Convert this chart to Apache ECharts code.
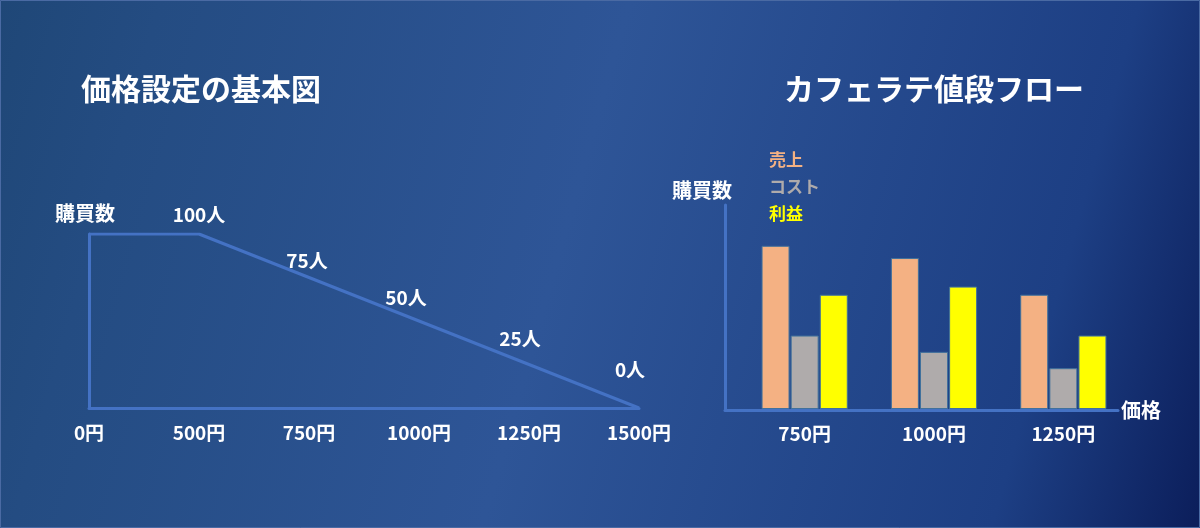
<!DOCTYPE html>
<html>
<head>
<meta charset="utf-8">
<script src="https://cdn.jsdelivr.net/npm/echarts@6/dist/echarts.min.js"></script>
<style>
html,body{margin:0;padding:0;background:#1f4777;}
#chart{width:1200px;height:528px;}
</style>
</head>
<body>
<div id="chart"></div>
<script>
// ---- data ----
const leftTitle = '価格設定の基本図';
const rightTitle = 'カフェラテ値段フロー';
const priceCategories = ['0円', '500円', '750円', '1000円', '1250円', '1500円'];
const demand = [100, 100, 75, 50, 25, 0];
const demandLabels = ['', '100人', '75人', '50人', '25人', '0人'];
const barCategories = ['750円', '1000円', '1250円'];
const sales = [80, 74, 56];
const cost = [36, 28, 20];
const profit = [56, 60, 36];
const seriesNames = ['売上', 'コスト', '利益'];
const yName = '購買数';
const xName = '価格';

// ---- styles ----
const lineBlue = '#4472C4';
const barColors = ['#F4B183', '#AFABAB', '#FFFF00'];
const labelNudge = [[0, 0], [0, -10], [-2, -7], [-13, -14], [-9, -16], [-9, -29]];
const font = '"Noto Sans CJK JP", "Noto Sans", sans-serif';

const chart = echarts.init(document.getElementById('chart'));

const hiddenAxisBits = {
  axisTick: { show: false },
  axisLabel: { show: false },
  splitLine: { show: false }
};

const option = {
  backgroundColor: {
    type: 'linear', x: 0, y: 0, x2: 1243, y2: 350, global: true,
    colorStops: [
      { offset: 0, color: '#1f4777' },
      { offset: 0.12, color: '#244c82' },
      { offset: 0.47, color: '#2e5597' },
      { offset: 0.85, color: '#1d3f84' },
      { offset: 1, color: '#0c1f5c' }
    ]
  },
  textStyle: { fontFamily: font, fontWeight: 'bold' },
  animation: false,
  graphic: [{
    type: 'rect', silent: true, z: 100,
    shape: { x: 0.5, y: 0.5, width: 1199, height: 527 },
    style: { fill: 'none', stroke: '#4a6aa3', lineWidth: 1 }
  }],
  title: [
    {
      text: leftTitle, left: 201, top: 74, padding: 0,
      textAlign: 'center', textVerticalAlign: 'top',
      textStyle: { color: '#ffffff', fontSize: 30, fontWeight: 'bold', fontFamily: font }
    },
    {
      text: rightTitle, left: 934, top: 74, padding: 0,
      textAlign: 'center', textVerticalAlign: 'top',
      textStyle: { color: '#ffffff', fontSize: 30, fontWeight: 'bold', fontFamily: font }
    }
  ],
  legend: {
    orient: 'vertical', left: 759, top: 146,
    itemWidth: 0, itemHeight: 18, itemGap: 9.5,
    icon: 'none', selectedMode: false,
    data: seriesNames.map((n, i) => ({
      name: n,
      textStyle: { color: barColors[i], fontSize: 17, fontWeight: 'bold', fontFamily: font }
    }))
  },
  grid: [
    { left: 89, top: 234, width: 550, height: 174, containLabel: false },
    { left: 740, top: 205, width: 388, height: 204, containLabel: false },
    { left: 725, top: 205, width: 393, height: 205, containLabel: false }
  ],
  xAxis: [
    {
      gridIndex: 0, type: 'category', data: priceCategories, boundaryGap: false,
      axisLine: { lineStyle: { color: lineBlue, width: 3 } },
      axisTick: { show: false },
      axisLabel: { color: '#ffffff', fontSize: 19, fontWeight: 'bold', margin: 15, fontFamily: font },
      splitLine: { show: false }
    },
    {
      gridIndex: 1, type: 'category', data: barCategories,
      axisLine: { show: false },
      axisTick: { show: false },
      axisLabel: { color: '#ffffff', fontSize: 19, fontWeight: 'bold', margin: 15, fontFamily: font },
      splitLine: { show: false }
    },
    Object.assign({
      gridIndex: 2, type: 'value', min: 0, max: 1,
      axisLine: { show: true, lineStyle: { color: lineBlue, width: 3 } },
      name: xName, nameLocation: 'end', nameGap: 3,
      nameTextStyle: { color: '#ffffff', fontSize: 20, fontWeight: 'bold', fontFamily: font }
    }, hiddenAxisBits)
  ],
  yAxis: [
    Object.assign({
      gridIndex: 0, type: 'value', min: 0, max: 100,
      axisLine: { show: true, lineStyle: { color: lineBlue, width: 3 } },
      name: yName, nameLocation: 'end', nameGap: 11,
      nameTextStyle: { color: '#ffffff', fontSize: 20, fontWeight: 'bold', align: 'center', padding: [0, 8, 0, 0], fontFamily: font }
    }, hiddenAxisBits),
    Object.assign({
      gridIndex: 1, type: 'value', min: 0, max: 100,
      axisLine: { show: false }
    }, hiddenAxisBits),
    Object.assign({
      gridIndex: 2, type: 'value', min: 0, max: 1,
      axisLine: { show: true, lineStyle: { color: lineBlue, width: 3 } },
      name: yName, nameLocation: 'end', nameGap: 5,
      nameTextStyle: { color: '#ffffff', fontSize: 20, fontWeight: 'bold', align: 'center', padding: [0, 46, 0, 0], fontFamily: font }
    }, hiddenAxisBits)
  ],
  series: [
    {
      type: 'line', xAxisIndex: 0, yAxisIndex: 0,
      symbol: 'circle', symbolSize: 0, showSymbol: true,
      lineStyle: { color: lineBlue, width: 3 },
      itemStyle: { color: lineBlue },
      data: demand.map((v, i) => ({
        value: v,
        label: {
          show: demandLabels[i] !== '',
          formatter: demandLabels[i],
          position: 'top', distance: 0,
          offset: labelNudge[i],
          color: '#ffffff', fontSize: 19, fontWeight: 'bold', fontFamily: font
        }
      })),
      z: 3
    },
    ...[sales, cost, profit].map((arr, i) => ({
      type: 'bar', name: seriesNames[i], xAxisIndex: 1, yAxisIndex: 1,
      barWidth: 28, barGap: '4%',
      itemStyle: { color: barColors[i], borderColor: '#41719C', borderWidth: 1 },
      data: arr,
      z: 3
    }))
  ]
};

chart.setOption(option);
</script>
</body>
</html>
